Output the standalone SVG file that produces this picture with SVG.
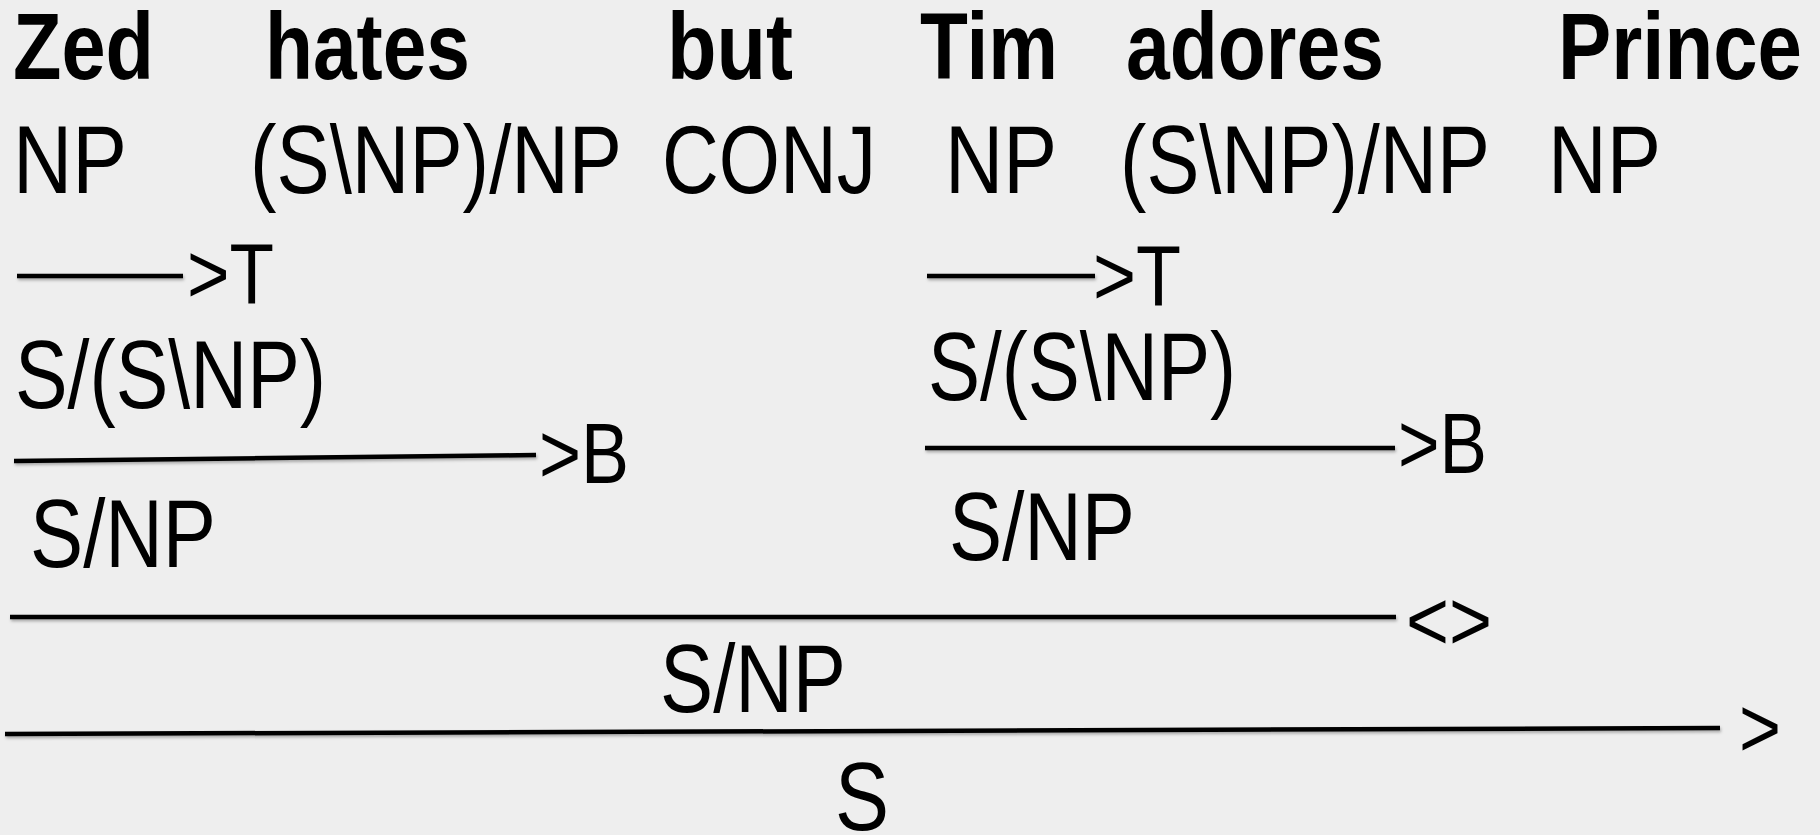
<svg xmlns="http://www.w3.org/2000/svg" width="1820" height="835" viewBox="0 0 1820 835">
<defs>
<style>
.w{font-family:"Liberation Sans Narrow","Liberation Sans",Arial,sans-serif;font-weight:bold;font-size:94px;fill:#000}
.c{font-family:"Liberation Sans Narrow","Liberation Sans",Arial,sans-serif;font-size:96px;fill:#000}
.r{font-family:"Liberation Sans Narrow","Liberation Sans",Arial,sans-serif;font-size:86px;fill:#000}
.ln{stroke:#000;stroke-width:4.5;fill:none;filter:url(#sh)}
</style>
<filter id="sh" filterUnits="userSpaceOnUse" x="0" y="0" width="1820" height="835">
<feDropShadow dx="1" dy="2" stdDeviation="1.5" flood-color="#000" flood-opacity="0.3"/>
</filter>
</defs>
<rect width="1820" height="835" fill="#eeeeee"/>
<g id="words">
<g id="w-zed"><text class="w" x="13" y="79" textLength="141" lengthAdjust="spacingAndGlyphs">Zed</text></g>
<g id="w-hates"><text class="w" x="265" y="79" textLength="205" lengthAdjust="spacingAndGlyphs">hates</text></g>
<g id="w-but"><text class="w" x="667" y="79" textLength="126" lengthAdjust="spacingAndGlyphs">but</text></g>
<g id="w-tim"><text class="w" x="920" y="79" textLength="138" lengthAdjust="spacingAndGlyphs">Tim</text></g>
<g id="w-adores"><text class="w" x="1126" y="79" textLength="258" lengthAdjust="spacingAndGlyphs">adores</text></g>
<g id="w-prince"><text class="w" x="1558" y="79" textLength="244" lengthAdjust="spacingAndGlyphs">Prince</text></g>
</g>
<g id="lexical">
<g id="cat-zed"><text class="c" x="13" y="193" textLength="114" lengthAdjust="spacingAndGlyphs">NP</text></g>
<g id="cat-hates"><text class="c" x="250" y="193" textLength="372" lengthAdjust="spacingAndGlyphs">(S\NP)/NP</text></g>
<g id="cat-but"><text class="c" x="662" y="193" textLength="214" lengthAdjust="spacingAndGlyphs">CONJ</text></g>
<g id="cat-tim"><text class="c" x="945" y="193" textLength="112" lengthAdjust="spacingAndGlyphs">NP</text></g>
<g id="cat-adores"><text class="c" x="1120" y="193" textLength="370" lengthAdjust="spacingAndGlyphs">(S\NP)/NP</text></g>
<g id="cat-prince"><text class="c" x="1548" y="193" textLength="113" lengthAdjust="spacingAndGlyphs">NP</text></g>
</g>
<g id="connectors">
<line class="ln" x1="17" y1="276" x2="183" y2="276"/>
<line class="ln" x1="927" y1="276" x2="1095" y2="276"/>
<line class="ln" x1="14" y1="461" x2="536" y2="455"/>
<line class="ln" x1="925" y1="448" x2="1395" y2="448"/>
<line class="ln" x1="10" y1="617" x2="1396" y2="617"/>
<line class="ln" x1="5" y1="734" x2="1720" y2="728"/>
</g>
<g id="rules">
<g id="rule-t1"><text class="r" x="187" y="303" textLength="87" lengthAdjust="spacingAndGlyphs">&gt;T</text></g>
<g id="rule-t2"><text class="r" x="1093" y="305" textLength="88" lengthAdjust="spacingAndGlyphs">&gt;T</text></g>
<g id="rule-b1"><text class="r" x="539" y="483" textLength="90" lengthAdjust="spacingAndGlyphs">&gt;B</text></g>
<g id="rule-b2"><text class="r" x="1398" y="473" textLength="89" lengthAdjust="spacingAndGlyphs">&gt;B</text></g>
<g id="rule-conj"><text class="r" x="1406" y="650" textLength="86" lengthAdjust="spacingAndGlyphs">&lt;&gt;</text></g>
<g id="rule-app"><text class="r" x="1739" y="757" textLength="42" lengthAdjust="spacingAndGlyphs">&gt;</text></g>
</g>
<g id="derived">
<g id="d-zed-t"><text class="c" x="15" y="408" textLength="311" lengthAdjust="spacingAndGlyphs">S/(S\NP)</text></g>
<g id="d-tim-t"><text class="c" x="928" y="400" textLength="308" lengthAdjust="spacingAndGlyphs">S/(S\NP)</text></g>
<g id="d-zed-b"><text class="c" x="30" y="567" textLength="186" lengthAdjust="spacingAndGlyphs">S/NP</text></g>
<g id="d-tim-b"><text class="c" x="949" y="560" textLength="186" lengthAdjust="spacingAndGlyphs">S/NP</text></g>
<g id="d-conj"><text class="c" x="660" y="712" textLength="186" lengthAdjust="spacingAndGlyphs">S/NP</text></g>
<g id="d-s"><text class="c" x="835" y="830" textLength="54" lengthAdjust="spacingAndGlyphs">S</text></g>
</g>
</svg>
